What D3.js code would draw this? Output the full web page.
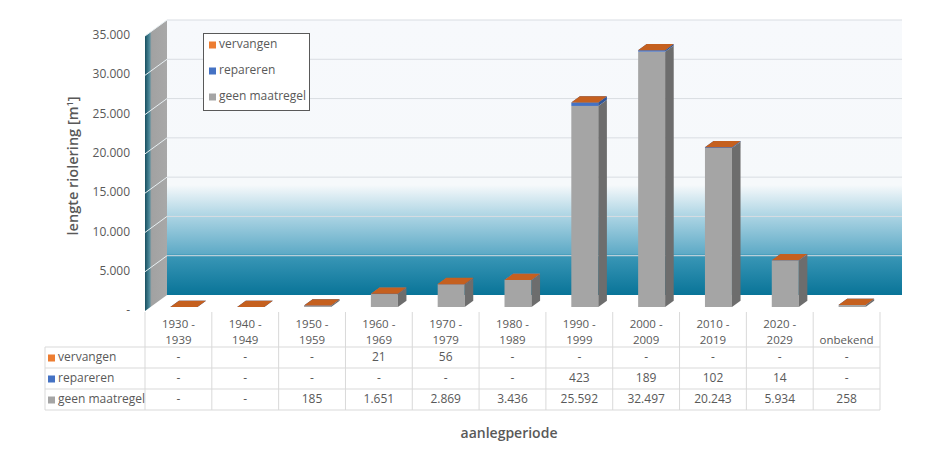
<!DOCTYPE html>
<html>
<head>
<meta charset="utf-8">
<script src="https://cdn.jsdelivr.net/npm/d3@7"></script>
<style>
  body { margin: 0; background: #fff; }
  svg { display: block; font-family: "Open Sans", sans-serif; }
</style>
</head>
<body>
<div id="chart"></div>
<script>
// data
const categories = ["1930 - 1939", "1940 - 1949", "1950 - 1959", "1960 - 1969", "1970 - 1979",
  "1980 - 1989", "1990 - 1999", "2000 - 2009", "2010 - 2019", "2020 - 2029", "onbekend"];
const vervangen = [0, 0, 0, 21, 56, 0, 0, 0, 0, 0, 0];
const repareren = [0, 0, 0, 0, 0, 0, 423, 189, 102, 14, 0];
const geenMaatregel = [0, 0, 185, 1651, 2869, 3436, 25592, 32497, 20243, 5934, 258];
const yTicks = [0, 5000, 10000, 15000, 20000, 25000, 30000, 35000];

const series = [
  { key: "geen", name: "geen maatregel", values: geenMaatregel, front: "#a5a5a5", side: "#6d6d6d", top: "#c4c4c4" },
  { key: "repareren", name: "repareren", values: repareren, front: "#4472c4", side: "#2f5597", top: "#3a63ad" },
  { key: "vervangen", name: "vervangen", values: vervangen, front: "#ed7d31", side: "#a9521a", top: "#c5601f" }
];

const W = 941, H = 454;
const left = 145, right = 880, base = 311, topY = 36;
const depthX = 22, depthY = 16;

const nl = d3.formatLocale({ decimal: ",", thousands: ".", grouping: [3], currency: ["€", ""] });
const fmt = v => v === 0 ? "-" : nl.format(",")(v);

const svg = d3.select("#chart").append("svg")
  .attr("width", W).attr("height", H);

const x = d3.scaleBand().domain(categories).range([left, right]);
const y = d3.scaleLinear().domain([0, 35000]).range([base, topY]);

// screen position for a point on the front plane moved z (0..1) into depth
const proj = (xs, v, z) => [xs + z * depthX, y(v) - z * depthY];

const defs = svg.append("defs");
const wallGrad = defs.append("linearGradient").attr("id", "wall")
  .attr("x1", 0).attr("y1", 0).attr("x2", 0).attr("y2", 1);
[[0, "#f7f9fc"], [0.6, "#f6f9fb"], [0.72, "#a8d2e2"], [0.85, "#5eaac6"],
 [0.855, "#3a97b7"], [1, "#097498"]].forEach(s =>
  wallGrad.append("stop").attr("offset", s[0]).attr("stop-color", s[1]));

const sideGrad = defs.append("linearGradient").attr("id", "sidewall")
  .attr("x1", 0).attr("y1", 0).attr("x2", 1).attr("y2", 0);
[[0, "#174f60"], [0.2, "#4d8a9b"], [0.3, "#a2a2a2"], [1, "#a8a8a8"]].forEach(s =>
  sideGrad.append("stop").attr("offset", s[0]).attr("stop-color", s[1]));

// back wall
svg.append("rect")
  .attr("x", left + depthX).attr("y", y(35000) - depthY)
  .attr("width", right - left).attr("height", y(0) - y(35000))
  .attr("fill", "url(#wall)");

// side wall
svg.append("polygon")
  .attr("points", [proj(left, 0, 0), proj(left, 35000, 0), proj(left, 35000, 1), proj(left, 0, 1)].join(" "))
  .attr("fill", "url(#sidewall)");

// gridlines
svg.append("g").selectAll("line").data(yTicks.slice(1)).join("line")
  .attr("x1", left + depthX).attr("x2", right + depthX)
  .attr("y1", d => y(d) - depthY).attr("y2", d => y(d) - depthY)
  .attr("stroke", "#d9dde2").attr("stroke-width", 1);
svg.append("g").selectAll("line").data(yTicks.slice(1)).join("line")
  .attr("x1", left).attr("x2", left + depthX)
  .attr("y1", d => y(d)).attr("y2", d => y(d) - depthY)
  .attr("stroke", "#e8f0f3").attr("stroke-width", 1);

// y axis labels
svg.append("g").selectAll("text").data(yTicks).join("text")
  .attr("x", 130).attr("y", d => y(d))
  .attr("text-anchor", "end").attr("dominant-baseline", "middle")
  .attr("font-size", 12).attr("fill", "#595959")
  .text(fmt);

// bars
const stacked = d3.stack().keys(series.map(s => s.key))(
  categories.map((c, i) => ({ cat: c, geen: geenMaatregel[i], repareren: repareren[i], vervangen: vervangen[i] })));

const z0 = 0.25, z1 = 0.64, half = 13.5;
const bars = svg.append("g");
stacked.forEach((layer, si) => {
  const s = series[si];
  layer.forEach(d => {
    const xc = x(d.data.cat) + x.bandwidth() / 2;
    const xl = xc - half, xr = xc + half, v0 = d[0], v1 = d[1];
    const g = bars.append("g");
    g.append("polygon")
      .attr("points", [proj(xl, v0, z0), proj(xr, v0, z0), proj(xr, v1, z0), proj(xl, v1, z0)].join(" "))
      .attr("fill", s.front);
    g.append("polygon")
      .attr("points", [proj(xr, v0, z0), proj(xr, v0, z1), proj(xr, v1, z1), proj(xr, v1, z0)].join(" "))
      .attr("fill", s.side);
    g.append("polygon")
      .attr("points", [proj(xl, v1, z0), proj(xr, v1, z0), proj(xr, v1, z1), proj(xl, v1, z1)].join(" "))
      .attr("fill", s.top);
  });
});

// legend
const lg = svg.append("g");
lg.append("rect").attr("x", 203.5).attr("y", 33.5).attr("width", 106).attr("height", 77)
  .attr("fill", "#fff").attr("stroke", "#595959");
series.slice().reverse().forEach((s, i) => {
  const ly = 45 + i * 26;
  lg.append("rect").attr("x", 209).attr("y", ly - 3.5).attr("width", 7).attr("height", 7).attr("fill", s.front);
  lg.append("text").attr("x", 219).attr("y", ly).attr("dominant-baseline", "middle")
    .attr("font-size", 12).attr("fill", "#595959").text(s.name);
});

// data table
const tbl = svg.append("g");
const rowTop = 347, rowH = 21, tableLeft = 45, headTop = 312;
const grid = "#d9d9d9";
// header verticals
tbl.selectAll("line.v").data(categories.concat(["end"])).join("line")
  .attr("x1", (d, i) => left + i * x.bandwidth()).attr("x2", (d, i) => left + i * x.bandwidth())
  .attr("y1", headTop).attr("y2", rowTop + 3 * rowH)
  .attr("stroke", grid);
tbl.append("line").attr("x1", tableLeft).attr("x2", tableLeft)
  .attr("y1", rowTop).attr("y2", rowTop + 3 * rowH).attr("stroke", grid);
d3.range(4).forEach(r => {
  tbl.append("line").attr("x1", tableLeft).attr("x2", right)
    .attr("y1", rowTop + r * rowH).attr("y2", rowTop + r * rowH).attr("stroke", grid);
});
// header labels
categories.forEach(c => {
  const cx = x(c) + x.bandwidth() / 2;
  const parts = c.split(" - ");
  const lines = parts.length === 2 ? [parts[0] + " -", parts[1]] : ["", c];
  lines.forEach((t, li) => {
    if (!t) return;
    tbl.append("text").attr("x", cx).attr("y", 325 + li * 16)
      .attr("text-anchor", "middle").attr("dominant-baseline", "middle")
      .attr("font-size", 11.5).attr("fill", "#595959").text(t);
  });
});
// rows
series.slice().reverse().forEach((s, r) => {
  const cy = rowTop + r * rowH + rowH / 2 + 0.5;
  tbl.append("rect").attr("x", 48).attr("y", cy - 3.5).attr("width", 7).attr("height", 7).attr("fill", s.front);
  tbl.append("text").attr("x", 58).attr("y", cy).attr("dominant-baseline", "middle")
    .attr("font-size", 12).attr("fill", "#595959").text(s.name);
  s.values.forEach((v, i) => {
    tbl.append("text").attr("x", x(categories[i]) + x.bandwidth() / 2).attr("y", cy)
      .attr("text-anchor", "middle").attr("dominant-baseline", "middle")
      .attr("font-size", 12).attr("fill", "#595959").text(fmt(v));
  });
});

// axis titles
svg.append("text")
  .attr("transform", "translate(78,166) rotate(-90)")
  .attr("text-anchor", "middle")
  .attr("font-size", 14.5).attr("font-weight", 600).attr("fill", "#595959")
  .html('lengte riolering [m<tspan dy="-5" font-size="9">1</tspan><tspan dy="5">]</tspan>');
svg.append("text")
  .attr("x", 509).attr("y", 438)
  .attr("text-anchor", "middle")
  .attr("font-size", 14).attr("font-weight", 600).attr("fill", "#595959")
  .text("aanlegperiode");
</script>
</body>
</html>
